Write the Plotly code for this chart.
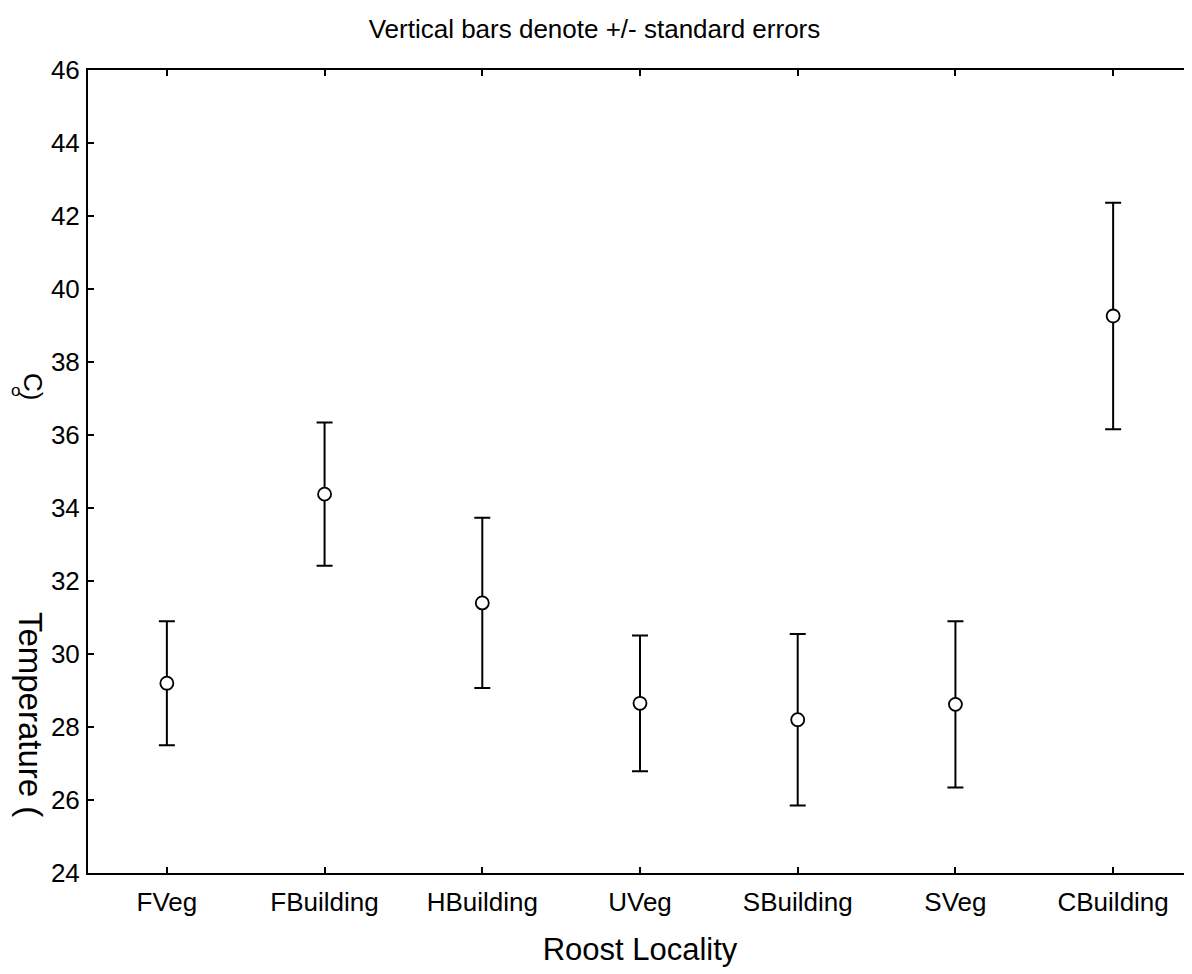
import plotly.graph_objects as go

categories = ["FVeg", "FBuilding", "HBuilding", "UVeg", "SBuilding", "SVeg", "CBuilding"]
means = [29.2, 34.38, 31.4, 28.65, 28.2, 28.62, 39.26]
std_err = [1.7, 1.96, 2.33, 1.86, 2.35, 2.28, 3.1]
y_ticks = list(range(24, 47, 2))

FONT = "Liberation Sans, Arial, sans-serif"

W, H = 1192, 974
ML, MR, MT, MB = 80, 6, 62, 109
PW = W - ML - MR
PH = H - MT - MB
OFF = 8  # page body offset


def px(page_x):
    return (page_x - OFF - ML) / PW


def py(page_y):
    return (H - MB - (page_y - OFF)) / PH


fig = go.Figure()
fig.add_trace(go.Scatter(
    x=list(range(len(categories))),
    y=means,
    mode="markers",
    marker=dict(size=13, color="white", line=dict(color="black", width=1.8)),
    error_y=dict(type="data", array=std_err, visible=True,
                 color="black", thickness=2, width=8),
    showlegend=False,
))

fig.update_layout(
    width=W, height=H,
    margin=dict(l=ML, r=MR, t=MT, b=MB),
    paper_bgcolor="white", plot_bgcolor="white",
    font=dict(family=FONT, color="black", size=26),
    title=dict(text="Vertical bars denote +/- standard errors",
               x=0.492, xref="container", y=0.9784, yref="container",
               yanchor="middle", xanchor="center",
               font=dict(size=26, family=FONT, color="black")),
)

fig.update_xaxes(
    range=[-0.5, 6.5],
    tickmode="array",
    tickvals=list(range(len(categories))),
    ticktext=categories,
    ticks="inside", ticklen=6, tickwidth=1.5, tickcolor="black",
    showline=True, linecolor="black", linewidth=2,
    mirror="ticks", showgrid=False, zeroline=False,
    tickfont=dict(size=26, family=FONT, color="black"),
    ticklabelstandoff=5,
    title=dict(text="Roost Locality", font=dict(size=31, family=FONT, color="black"),
               standoff=22),
)
fig.update_yaxes(
    range=[24, 46],
    tickmode="array",
    tickvals=y_ticks,
    ticktext=[str(v) for v in y_ticks],
    ticks="inside", ticklen=6, tickwidth=1.5, tickcolor="black",
    showline=True, linecolor="black", linewidth=2,
    mirror="ticks", showgrid=False, zeroline=False,
    tickfont=dict(size=26, family=FONT, color="black"),
    ticklabelstandoff=1,
)

# Y axis title, as rendered in the original (pieces rotated clockwise)
fig.add_annotation(text="Temperature (", xref="paper", yref="paper",
                   x=px(31), y=py(714),
                   xanchor="center", yanchor="middle", textangle=90,
                   showarrow=False, font=dict(size=33, family=FONT, color="black"))
fig.add_annotation(text="C)", xref="paper", yref="paper",
                   x=px(33), y=py(386),
                   xanchor="center", yanchor="middle", textangle=90,
                   showarrow=False, font=dict(size=26, family=FONT, color="black"))
fig.add_annotation(text="o", xref="paper", yref="paper",
                   x=px(15), y=py(390),
                   xanchor="center", yanchor="middle",
                   showarrow=False, font=dict(size=17, family=FONT, color="black"))

fig.write_html("out.html")
